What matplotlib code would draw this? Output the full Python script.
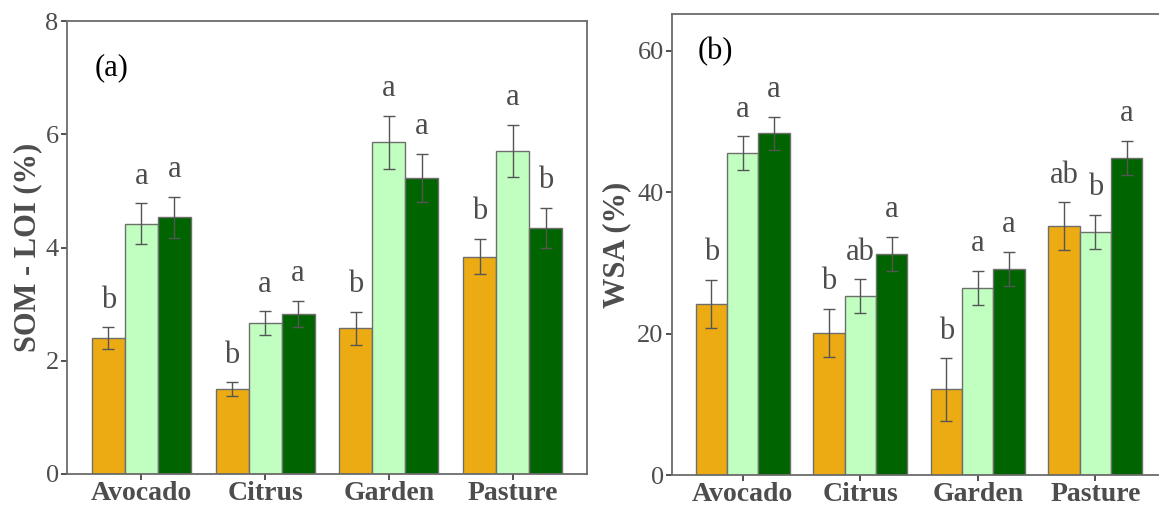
import matplotlib
matplotlib.use("Agg")
import matplotlib.pyplot as plt
import numpy as np

plt.rcParams['font.family'] = ['Liberation Serif', 'DejaVu Serif']

categories = ['Avocado', 'Citrus', 'Garden', 'Pasture']
colors = ['#ECAB12', '#C1FFC1', '#006400']

# SOM - LOI (%)
som_mean = [[2.40, 1.50, 2.57, 3.84],
            [4.42, 2.66, 5.86, 5.71],
            [4.53, 2.83, 5.23, 4.35]]
som_err = [[0.19, 0.12, 0.29, 0.31],
           [0.36, 0.21, 0.47, 0.46],
           [0.36, 0.23, 0.42, 0.35]]
som_letters = [['b', 'b', 'b', 'b'],
               ['a', 'a', 'a', 'a'],
               ['a', 'a', 'a', 'b']]

# WSA (%)
wsa_mean = [[24.2, 20.1, 12.1, 35.2],
            [45.5, 25.3, 26.5, 34.4],
            [48.3, 31.3, 29.2, 44.9]]
wsa_err = [[3.4, 3.4, 4.4, 3.4],
           [2.4, 2.4, 2.4, 2.4],
           [2.4, 2.4, 2.4, 2.4]]
wsa_letters = [['b', 'b', 'b', 'ab'],
               ['a', 'ab', 'a', 'b'],
               ['a', 'a', 'a', 'a']]

fig = plt.figure(figsize=(11.59, 5.08), dpi=100)
ax1 = fig.add_axes([67/1159, 34/508, 520/1159, 453/508])
ax2 = fig.add_axes([672/1159, 33/508, 494/1159, 461/508])


def draw(ax, means, errs, letters, ylim, yticks, ylabel, tag, tag_y, off, labx):
    x = np.arange(1, len(categories) + 1)
    w = 0.8 / 3
    for i in range(3):
        xs = x + (i - 1) * w
        ax.bar(xs, means[i], width=w, color=colors[i], edgecolor='#6e6e6e',
               linewidth=1.0, zorder=2)
        ax.errorbar(xs, means[i], yerr=errs[i], fmt='none', ecolor='#555555',
                    elinewidth=1.0, capsize=4, capthick=1.0, zorder=3)
        for xi, m, e, t in zip(xs, means[i], errs[i], letters[i]):
            ax.text(xi, m + e + off, t, ha='center', va='center',
                    fontsize=22, color='#4d4d4d')
    ax.set_xlim(0.4, 4.6)
    ax.set_ylim(*ylim)
    ax.set_xticks(x)
    ax.set_xticklabels(categories, fontweight='bold', fontsize=20, color='#4d4d4d')
    ax.set_yticks(yticks)
    ax.tick_params(axis='y', labelsize=19, labelcolor='#4d4d4d', length=4,
                   width=1.2, color='#333333', pad=2)
    ax.tick_params(axis='x', length=4, width=1.2, color='#333333', pad=1)
    for s in ax.spines.values():
        s.set_color('#6b6b6b')
        s.set_linewidth(1.3)
    ax.set_ylabel(ylabel, fontweight='bold', fontsize=22, color='#4d4d4d')
    ax.yaxis.set_label_coords(labx, 0.5)
    ax.text(0.62, tag_y, tag, fontsize=22, color='black', ha='left', va='center')


draw(ax1, som_mean, som_err, som_letters, (0, 8), [0, 2, 4, 6, 8],
     'SOM - LOI (%)', '(a)', 7.18, 0.48, -0.047)
draw(ax2, wsa_mean, wsa_err, wsa_letters, (0, 65.2), [0, 20, 40, 60],
     'WSA (%)', '(b)', 59.9, 3.8, -0.082)

fig.savefig('out.png', dpi=100)
